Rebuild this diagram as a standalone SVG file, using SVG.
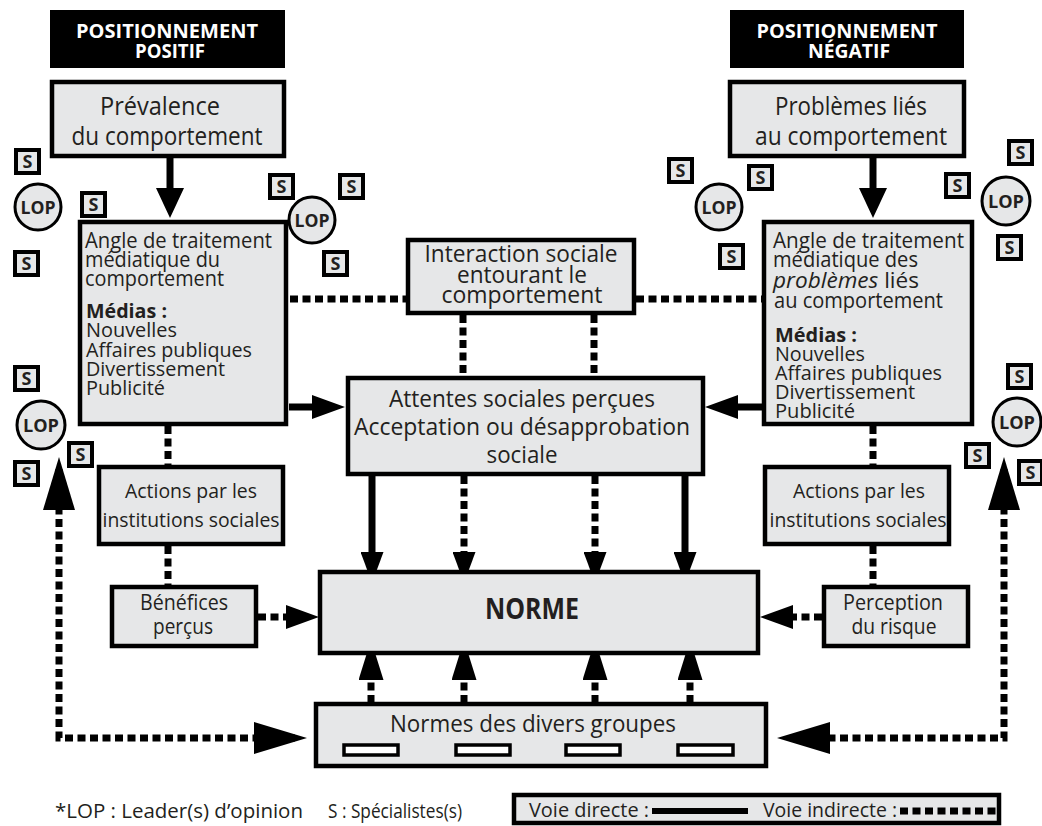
<svg xmlns="http://www.w3.org/2000/svg" width="1042" height="826" viewBox="0 0 1042 826">
<style>
.box{fill:#e6e7e8;stroke:#000;stroke-width:4.5}
.hdr{fill:#000}
.t{font-family:"Open Sans","Noto Sans",sans-serif;fill:#231f20}
.ht{font-family:"Open Sans","Noto Sans",sans-serif;font-weight:bold;fill:#fff;font-size:20px;text-anchor:middle}
.c{text-anchor:middle}
.b{font-weight:bold}
.sbox{fill:#e6e7e8;stroke:#000;stroke-width:4}
.lop{fill:#e6e7e8;stroke:#000;stroke-width:3}
.st{font-family:"Open Sans","Noto Sans",sans-serif;font-weight:bold;fill:#231f20;font-size:18px;text-anchor:middle}
.solid{fill:none;stroke:#000;stroke-width:7}
.dot{fill:none;stroke:#000;stroke-width:7;stroke-dasharray:8 4.5}
.slot{fill:#fff;stroke:#000;stroke-width:3.5}
</style>
<defs>
<marker id="mA" markerUnits="userSpaceOnUse" viewBox="0 0 30 28" markerWidth="30" markerHeight="28" refX="18" refY="14" orient="auto"><path d="M0,0 L30,14 L0,28 z" fill="#000"/></marker>
<marker id="mB" markerUnits="userSpaceOnUse" viewBox="0 0 33 24" markerWidth="33" markerHeight="24" refX="21" refY="12" orient="auto"><path d="M0,0 L33,12 L0,24 z" fill="#000"/></marker>
<marker id="mC" markerUnits="userSpaceOnUse" viewBox="0 0 31 23" markerWidth="31" markerHeight="23" refX="19" refY="11.5" orient="auto"><path d="M0,0 L31,11.5 L0,23 z" fill="#000"/></marker>
<marker id="mD" markerUnits="userSpaceOnUse" viewBox="0 0 40 25" markerWidth="40" markerHeight="25" refX="28" refY="12.5" orient="auto"><path d="M0,0 L40,12.5 L0,25 z" fill="#000"/></marker>
<marker id="mE" markerUnits="userSpaceOnUse" viewBox="0 0 53 32" markerWidth="53" markerHeight="32" refX="41" refY="16" orient="auto-start-reverse"><path d="M0,0 L53,16 L0,32 z" fill="#000"/></marker>
</defs>
<rect width="1042" height="826" fill="#fff"/>

<g id="connectors">
<path class="solid" d="M170,158 V206" marker-end="url(#mA)"/>
<path class="solid" d="M873,158 V206" marker-end="url(#mA)"/>
<path class="dot" d="M290,299 H406"/>
<path class="dot" d="M636,299 H762"/>
<path class="dot" d="M463,315 V376"/>
<path class="dot" d="M594,315 V376"/>
<path class="solid" d="M289,407 H333" marker-end="url(#mB)"/>
<path class="solid" d="M762,407 H717" marker-end="url(#mB)"/>
<path class="solid" d="M372,476 V571" marker-end="url(#mC)"/>
<path class="dot" d="M464,476 V571" marker-end="url(#mC)"/>
<path class="dot" d="M595,476 V571" marker-end="url(#mC)"/>
<path class="solid" d="M685,476 V571" marker-end="url(#mC)"/>
<path class="dot" d="M371,703 V652" marker-end="url(#mD)"/>
<path class="dot" d="M464,703 V652" marker-end="url(#mD)"/>
<path class="dot" d="M595,703 V652" marker-end="url(#mD)"/>
<path class="dot" d="M690,703 V652" marker-end="url(#mD)"/>
<path class="dot" d="M168,426 V465"/>
<path class="dot" d="M168,546 V585"/>
<path class="dot" d="M873,426 V465"/>
<path class="dot" d="M873,546 V585"/>
<path class="dot" d="M258,617 H307" marker-end="url(#mB)"/>
<path class="dot" d="M822,617 H772" marker-end="url(#mB)"/>
<path class="dot" d="M59,469 V738 H295" marker-start="url(#mE)" marker-end="url(#mE)"/>
<path class="dot" d="M1004,469 V738 H789" marker-start="url(#mE)" marker-end="url(#mE)"/>
</g>

<g id="hdr-positif">
<rect class="hdr" x="50" y="10" width="235" height="58"/>
<text class="ht" x="167" y="38" textLength="182" lengthAdjust="spacingAndGlyphs">POSITIONNEMENT</text>
<text class="ht" x="170" y="58" textLength="70" lengthAdjust="spacingAndGlyphs">POSITIF</text>
</g>
<g id="hdr-negatif">
<rect class="hdr" x="730" y="10" width="234" height="58"/>
<text class="ht" x="847" y="38" textLength="181" lengthAdjust="spacingAndGlyphs">POSITIONNEMENT</text>
<text class="ht" x="849" y="58" textLength="82" lengthAdjust="spacingAndGlyphs">NÉGATIF</text>
</g>

<g id="prevalence">
<rect class="box" x="52" y="82" width="232" height="74"/>
<text class="t c" font-size="25" x="160" y="115" textLength="120" lengthAdjust="spacingAndGlyphs">Prévalence</text>
<text class="t c" font-size="25" x="167" y="145" textLength="191" lengthAdjust="spacingAndGlyphs">du comportement</text>
</g>
<g id="problemes">
<rect class="box" x="730" y="82" width="234" height="74"/>
<text class="t c" font-size="25" x="851" y="115" textLength="152" lengthAdjust="spacingAndGlyphs">Problèmes liés</text>
<text class="t c" font-size="25" x="851" y="145" textLength="192" lengthAdjust="spacingAndGlyphs">au comportement</text>
</g>

<g id="angle-positif">
<rect class="box" x="80" y="222" width="206" height="202"/>
<text class="t" font-size="21" x="85" y="248" textLength="187" lengthAdjust="spacingAndGlyphs">Angle de traitement</text>
<text class="t" font-size="21" x="85" y="267" textLength="135" lengthAdjust="spacingAndGlyphs">médiatique du</text>
<text class="t" font-size="21" x="85" y="286" textLength="139" lengthAdjust="spacingAndGlyphs">comportement</text>
<text class="t b" font-size="20" x="86" y="318" textLength="81" lengthAdjust="spacingAndGlyphs">Médias :</text>
<text class="t" font-size="20" x="86" y="337" textLength="91" lengthAdjust="spacingAndGlyphs">Nouvelles</text>
<text class="t" font-size="20" x="86" y="357" textLength="166" lengthAdjust="spacingAndGlyphs">Affaires publiques</text>
<text class="t" font-size="20" x="86" y="376" textLength="139" lengthAdjust="spacingAndGlyphs">Divertissement</text>
<text class="t" font-size="20" x="86" y="395" textLength="79" lengthAdjust="spacingAndGlyphs">Publicité</text>
</g>
<g id="angle-negatif">
<rect class="box" x="764" y="222" width="208" height="202"/>
<text class="t" font-size="21" x="773" y="248" textLength="191" lengthAdjust="spacingAndGlyphs">Angle de traitement</text>
<text class="t" font-size="21" x="773" y="267" textLength="145" lengthAdjust="spacingAndGlyphs">médiatique des</text>
<text class="t" font-size="21" x="773" y="288" textLength="146" lengthAdjust="spacingAndGlyphs"><tspan font-style="italic">problèmes</tspan> liés</text>
<text class="t" font-size="21" x="774" y="308" textLength="169" lengthAdjust="spacingAndGlyphs">au comportement</text>
<text class="t b" font-size="20" x="775" y="342" textLength="82" lengthAdjust="spacingAndGlyphs">Médias :</text>
<text class="t" font-size="20" x="775" y="361" textLength="90" lengthAdjust="spacingAndGlyphs">Nouvelles</text>
<text class="t" font-size="20" x="775" y="380" textLength="167" lengthAdjust="spacingAndGlyphs">Affaires publiques</text>
<text class="t" font-size="20" x="775" y="399" textLength="140" lengthAdjust="spacingAndGlyphs">Divertissement</text>
<text class="t" font-size="20" x="775" y="418" textLength="80" lengthAdjust="spacingAndGlyphs">Publicité</text>
</g>

<g id="interaction">
<rect class="box" x="408" y="240" width="226" height="73"/>
<text class="t c" font-size="23" x="521" y="262" textLength="193" lengthAdjust="spacingAndGlyphs">Interaction sociale</text>
<text class="t c" font-size="23" x="522" y="283" textLength="130" lengthAdjust="spacingAndGlyphs">entourant le</text>
<text class="t c" font-size="23" x="522" y="303" textLength="161" lengthAdjust="spacingAndGlyphs">comportement</text>
</g>

<g id="attentes">
<rect class="box" x="348" y="378" width="355" height="96"/>
<text class="t c" font-size="24" x="522" y="407" textLength="266" lengthAdjust="spacingAndGlyphs">Attentes sociales perçues</text>
<text class="t c" font-size="24" x="522" y="435" textLength="336" lengthAdjust="spacingAndGlyphs">Acceptation ou désapprobation</text>
<text class="t c" font-size="24" x="522" y="463" textLength="71" lengthAdjust="spacingAndGlyphs">sociale</text>
</g>

<g id="actions-positif">
<rect class="box" x="99" y="467" width="184" height="77"/>
<text class="t c" font-size="20" x="191" y="498" textLength="132" lengthAdjust="spacingAndGlyphs">Actions par les</text>
<text class="t c" font-size="20" x="191" y="527" textLength="177" lengthAdjust="spacingAndGlyphs">institutions sociales</text>
</g>
<g id="actions-negatif">
<rect class="box" x="765" y="467" width="184" height="77"/>
<text class="t c" font-size="20" x="859" y="498" textLength="132" lengthAdjust="spacingAndGlyphs">Actions par les</text>
<text class="t c" font-size="20" x="858" y="527" textLength="177" lengthAdjust="spacingAndGlyphs">institutions sociales</text>
</g>

<g id="benefices">
<rect class="box" x="112" y="587" width="144" height="59"/>
<text class="t c" font-size="21" x="184" y="610" textLength="88" lengthAdjust="spacingAndGlyphs">Bénéfices</text>
<text class="t c" font-size="21" x="183" y="634" textLength="60" lengthAdjust="spacingAndGlyphs">perçus</text>
</g>
<g id="perception">
<rect class="box" x="824" y="587" width="144" height="59"/>
<text class="t c" font-size="21" x="893" y="610" textLength="100" lengthAdjust="spacingAndGlyphs">Perception</text>
<text class="t c" font-size="21" x="894" y="634" textLength="85" lengthAdjust="spacingAndGlyphs">du risque</text>
</g>

<g id="norme">
<rect class="box" x="320" y="572" width="438" height="81"/>
<text class="t c b" font-size="28" x="532" y="619" textLength="94" lengthAdjust="spacingAndGlyphs">NORME</text>
</g>

<g id="normes-groupes">
<rect class="box" x="316" y="704" width="450" height="62"/>
<text class="t c" font-size="24" x="533" y="732" textLength="286" lengthAdjust="spacingAndGlyphs">Normes des divers groupes</text>
<rect class="slot" x="344" y="745" width="54" height="10"/>
<rect class="slot" x="456" y="745" width="54" height="10"/>
<rect class="slot" x="566" y="745" width="54" height="10"/>
<rect class="slot" x="678" y="745" width="55" height="10"/>
</g>

<g id="influenceurs-haut-gauche">
<rect class="sbox" x="16" y="150" width="23" height="23"/><text class="st" x="27.5" y="168">S</text>
<rect class="sbox" x="82" y="193" width="23" height="23"/><text class="st" x="93.5" y="211">S</text>
<rect class="sbox" x="15" y="252" width="23" height="23"/><text class="st" x="26.5" y="270">S</text>
<circle class="lop" cx="38" cy="207" r="23"/><text class="st" x="38" y="214" font-size="19" textLength="35" lengthAdjust="spacingAndGlyphs">LOP</text>
</g>
<g id="influenceurs-haut-centre-gauche">
<rect class="sbox" x="270" y="175" width="23" height="23"/><text class="st" x="281.5" y="193">S</text>
<rect class="sbox" x="340" y="175" width="23" height="23"/><text class="st" x="351.5" y="193">S</text>
<rect class="sbox" x="324" y="252" width="23" height="23"/><text class="st" x="335.5" y="270">S</text>
<circle class="lop" cx="312" cy="220" r="23"/><text class="st" x="312" y="227" font-size="19" textLength="35" lengthAdjust="spacingAndGlyphs">LOP</text>
</g>
<g id="influenceurs-haut-centre-droit">
<rect class="sbox" x="669" y="159" width="23" height="23"/><text class="st" x="680.5" y="177">S</text>
<rect class="sbox" x="749" y="166" width="23" height="23"/><text class="st" x="760.5" y="184">S</text>
<rect class="sbox" x="720" y="245" width="23" height="23"/><text class="st" x="731.5" y="263">S</text>
<circle class="lop" cx="719" cy="207" r="23"/><text class="st" x="719" y="214" font-size="19" textLength="35" lengthAdjust="spacingAndGlyphs">LOP</text>
</g>
<g id="influenceurs-haut-droit">
<rect class="sbox" x="1009" y="141" width="23" height="23"/><text class="st" x="1020.5" y="159">S</text>
<rect class="sbox" x="946" y="174" width="23" height="23"/><text class="st" x="957.5" y="192">S</text>
<rect class="sbox" x="998" y="236" width="23" height="23"/><text class="st" x="1009.5" y="254">S</text>
<circle class="lop" cx="1006" cy="201" r="24"/><text class="st" x="1006" y="208" font-size="19" textLength="36" lengthAdjust="spacingAndGlyphs">LOP</text>
</g>
<g id="influenceurs-bas-gauche">
<rect class="sbox" x="15" y="367" width="23" height="23"/><text class="st" x="26.5" y="385">S</text>
<rect class="sbox" x="15" y="462" width="23" height="23"/><text class="st" x="26.5" y="480">S</text>
<rect class="sbox" x="69" y="443" width="23" height="23"/><text class="st" x="80.5" y="461">S</text>
<circle class="lop" cx="41" cy="425" r="24"/><text class="st" x="41" y="432" font-size="19" textLength="36" lengthAdjust="spacingAndGlyphs">LOP</text>
</g>
<g id="influenceurs-bas-droit">
<rect class="sbox" x="1008" y="365" width="23" height="23"/><text class="st" x="1019.5" y="383">S</text>
<rect class="sbox" x="966" y="444" width="23" height="23"/><text class="st" x="977.5" y="462">S</text>
<rect class="sbox" x="1019" y="461" width="23" height="23"/><text class="st" x="1030.5" y="479">S</text>
<circle class="lop" cx="1017" cy="422" r="24"/><text class="st" x="1017" y="429" font-size="19" textLength="36" lengthAdjust="spacingAndGlyphs">LOP</text>
</g>

<g id="legende">
<text class="t" font-size="20" x="55" y="818" textLength="248" lengthAdjust="spacingAndGlyphs">*LOP : Leader(s) d’opinion</text>
<text class="t" font-size="20" x="328" y="818" textLength="134" lengthAdjust="spacingAndGlyphs">S : Spécialistes(s)</text>
<rect class="box" x="514" y="795" width="485" height="28" stroke-width="4"/>
<text class="t" font-size="20" x="529" y="817" textLength="120" lengthAdjust="spacingAndGlyphs">Voie directe :</text>
<rect x="652" y="808" width="96" height="6" fill="#000"/>
<text class="t" font-size="20" x="763" y="817" textLength="134" lengthAdjust="spacingAndGlyphs">Voie indirecte :</text>
<path d="M900,811 H998" fill="none" stroke="#000" stroke-width="7" stroke-dasharray="8 4.5"/>
</g>
</svg>
